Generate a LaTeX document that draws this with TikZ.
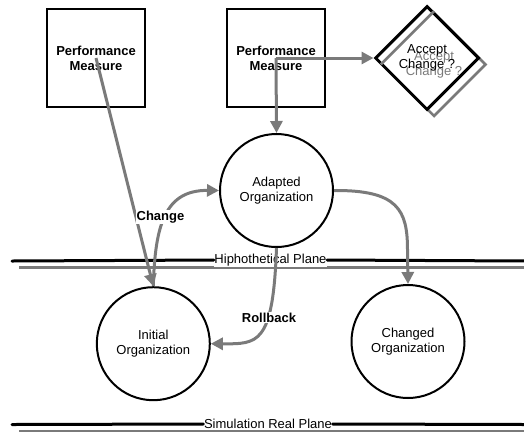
\documentclass[tikz,border=0pt]{standalone}
\usepackage{fontspec}
\setmainfont{Liberation Sans}
\usetikzlibrary{arrows.meta,shapes.geometric}
\definecolor{flowgray}{RGB}{122,122,122}
\begin{document}
\begin{tikzpicture}[x=1pt,y=-1pt,
  every node/.style={font=\fontsize{13}{15}\selectfont, align=center, inner sep=0pt},
  pmbox/.style={draw, line width=2pt, minimum width=98pt, minimum height=98pt,
    fill=white, font=\fontsize{13}{15}\selectfont\bfseries},
  org/.style={draw, circle, line width=2pt, minimum size=113pt, fill=white},
  decision/.style={draw, diamond, line width=3pt, minimum size=104pt, fill=white},
  decshadow/.style={draw=flowgray, diamond, line width=2.5pt, minimum size=104pt},
  flow/.style={draw=flowgray, line width=3pt, -{Triangle[length=12pt,width=12pt]}},
  flowlabel/.style={fill=white, inner sep=1pt, font=\fontsize{13}{15}\selectfont\bfseries},
  planeline/.style={line width=3pt, line cap=round},
  planeshadow/.style={draw=flowgray, line width=2.5pt},
  planelabel/.style={fill=white, inner xsep=0.5pt, inner ysep=1.5pt}
]
\useasboundingbox (0,0) rectangle (524,432);

% planes: shadow lines first, then the black lines and their labels
\coordinate (hpS) at (19,267.5);
\coordinate (hpE) at (526,267.5);
\coordinate (hpL) at (12,261);
\coordinate (hpR) at (526,261);
\coordinate (spS) at (19,431);
\coordinate (spE) at (526,431);
\coordinate (spL) at (12,424.5);
\coordinate (spR) at (526,424.5);
\draw[planeshadow] (hpS) -- (hpE);
\draw[planeshadow] (spS) -- (spE);
\node[planelabel] (hp) at (270.5,260) {Hiphothetical Plane};
\node[planelabel] (sp) at (268,424) {Simulation Real Plane};
\draw[flowgray, line width=0.8pt] (hp.south west) -- (hp.south east);
\draw[planeline] (hpL) -- (hp.west);
\draw[planeline] (hp.east) -- (hpR);
\draw[planeline] (spL) -- (sp.west);
\draw[planeline] (sp.east) -- (spR);

% performance measures
\node[pmbox] (pm1) at (96,58) {Performance\\Measure};
\node[pmbox] (pm2) at (276,58) {Performance\\Measure};

% acceptance decision with its offset shadow
\node[decshadow] (acceptshadow) at (434,64.5) {};
\node[decision] (accept) at (427,58) {};
\draw[flowgray, line width=2.5pt] (acceptshadow.west) -- (acceptshadow.north);
\node[text=flowgray] (accepttextshadow) at (434,64.5) {Accept\\Change ?};
\node (accepttext) at (accept.center) {Accept\\Change ?};

% organizations
\node[org] (adapt) at (276.5,190.5) {Adapted\\Organization};
\node[org] (init) at (153.3,343.7) {Initial\\Organization};
\node[org] (changed) at (408,341.5) {Changed\\Organization};

% flows
\draw[flow] (pm1.center) -- (init.north);
\draw[flow] (init.north) .. controls (155,225) and (165,190) .. (adapt.west);
\draw[flow] (pm2.center) -- (accept.west);
\draw[flow] (pm2.center) -- (adapt.north);
\draw[flow] (adapt.east) .. controls (398,190) and (407.5,210) .. (407.5,250) -- (changed.north);
\draw[flow] (adapt.south) .. controls (273,345) and (258,344) .. (init.east);

\node[flowlabel] (changelbl) at (160.5,217) {Change};
\node[flowlabel] (rollbacklbl) at (269,317.5) {Rollback};
\end{tikzpicture}
\end{document}
